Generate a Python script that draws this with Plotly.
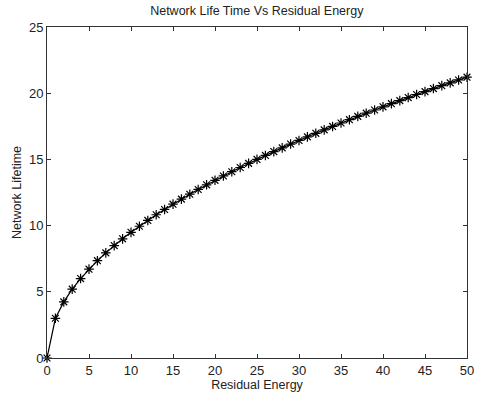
import plotly.graph_objects as go

# residual energy (x) and network lifetime (y)
residual_energy = [0, 1, 2, 3, 4, 5, 6, 7, 8, 9, 10, 11, 12, 13, 14, 15, 16, 17,
                   18, 19, 20, 21, 22, 23, 24, 25, 26, 27, 28, 29, 30, 31, 32, 33,
                   34, 35, 36, 37, 38, 39, 40, 41, 42, 43, 44, 45, 46, 47, 48, 49, 50]
network_lifetime = [0, 3.0, 4.24, 5.2, 6.0, 6.71, 7.35, 7.94, 8.49, 9.0, 9.49,
                    9.95, 10.39, 10.82, 11.22, 11.62, 12.0, 12.37, 12.73, 13.08,
                    13.42, 13.75, 14.07, 14.39, 14.7, 15.0, 15.3, 15.59, 15.87,
                    16.16, 16.43, 16.7, 16.97, 17.23, 17.49, 17.75, 18.0, 18.25,
                    18.49, 18.73, 18.97, 19.21, 19.44, 19.67, 19.9, 20.12, 20.35,
                    20.57, 20.78, 21.0, 21.21]

x_ticks = [0, 5, 10, 15, 20, 25, 30, 35, 40, 45, 50]
y_ticks = [0, 5, 10, 15, 20, 25]

fig = go.Figure(go.Scatter(
    x=residual_energy,
    y=network_lifetime,
    mode="lines+markers",
    line=dict(color="black", width=1.2),
    marker=dict(symbol="asterisk-open", size=8, color="black",
                line=dict(color="black", width=1.2)),
    cliponaxis=False,
))

axis_style = dict(
    showline=True, linecolor="#333", linewidth=1, mirror="ticks",
    ticks="inside", ticklen=4, tickcolor="#333",
    showgrid=False, zeroline=False, automargin=False,
    tickfont=dict(size=13, color="#222"),
)

fig.update_layout(
    width=480, height=398,
    margin=dict(l=47, r=13, t=27, b=40),
    paper_bgcolor="white", plot_bgcolor="white",
    font=dict(family="Liberation Sans, Arial, sans-serif", color="#222"),
    showlegend=False,
    title=dict(text="Network Life Time Vs Residual Energy", x=0.535, xanchor="center",
               y=0.985, yanchor="top", font=dict(size=12.5)),
    xaxis=dict(range=[0, 50], tickvals=x_ticks, ticklabelstandoff=0,
               title=dict(text="Residual Energy", font=dict(size=12.5), standoff=2),
               **axis_style),
    yaxis=dict(range=[0, 25], tickvals=y_ticks, ticklabelstandoff=0,
               title=dict(text="Network Lifetime", font=dict(size=12.5), standoff=4),
               **axis_style),
)

# drop the page's default body margin so the figure sits at the window origin
fig.write_html("out.html", config={"displayModeBar": False},
               post_script="document.body.style.margin='0px';")
